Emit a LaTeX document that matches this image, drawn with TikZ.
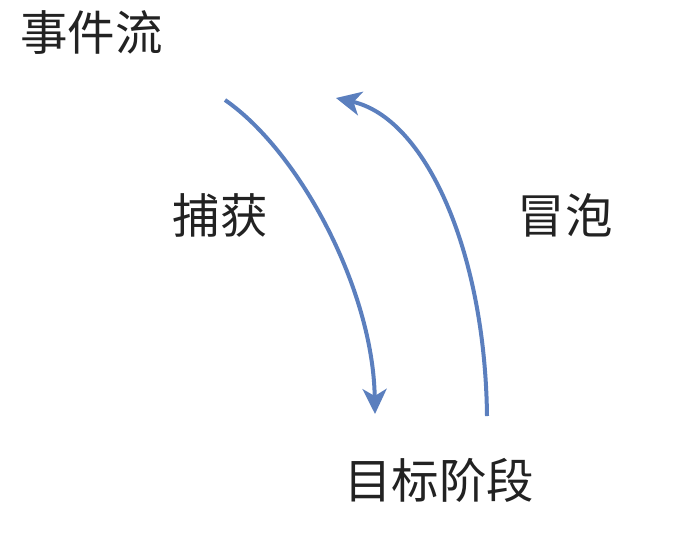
\documentclass[tikz,border=0pt]{standalone}
\usepackage{fontspec}
\newfontfamily\cjk{Noto Sans CJK SC}
\usetikzlibrary{arrows.meta}
\definecolor{flowblue}{HTML}{5B7FBE}
\definecolor{txt}{HTML}{222222}
\begin{document}
\begin{tikzpicture}[x=1pt,y=-1pt,
  lbl/.style={font=\cjk\fontsize{47.5}{50}\selectfont, text=txt, inner sep=0pt},
  flow/.style={draw=flowblue, line width=4pt, -{Stealth[length=25pt,width=24pt,inset=7pt]}}]
\useasboundingbox (0,0) rectangle (684,542);
\node[lbl, anchor=west] (title) at (20,33) {事件流};
\node[lbl] (cap) at (220,215) {捕获};
\node[lbl] (bub) at (565,215) {冒泡};
\node[lbl] (tgt) at (439,480) {目标阶段};
\coordinate (c0) at (225,100);
\coordinate (c1) at (375,414);
\coordinate (b0) at (487,416);
\coordinate (b1) at (336,98);
\draw[flow] (c0) .. controls (300,152) and (373,290) .. (c1);
\draw[flow] (b0) .. controls (485,250) and (425,118) .. (b1);
\end{tikzpicture}
\end{document}
